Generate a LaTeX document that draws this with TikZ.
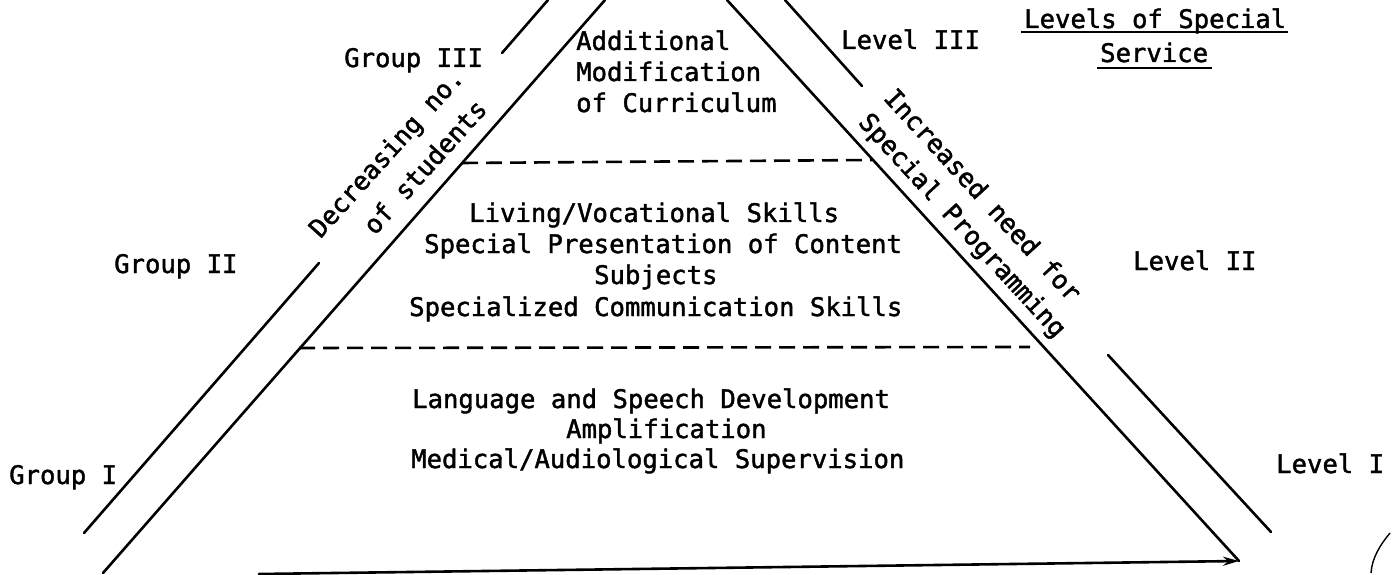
\documentclass[tikz,border=0pt]{standalone}
\usepackage{fontspec}
\newfontfamily\tw[FakeBold=1.6]{DejaVu Sans Mono}
\usetikzlibrary{arrows.meta}
\begin{document}
\begin{tikzpicture}[x=1pt,y=-1pt,
  txt/.style={font=\tw\fontsize{25.6pt}{32pt}\selectfont, inner sep=0pt, anchor=base west},
  rtxt/.style={font=\tw\fontsize{25.6pt}{32pt}\selectfont, inner sep=0pt, anchor=center, text height=18pt, text depth=0pt},
  edge/.style={line width=2.6pt, line cap=round},
  dsh/.style={line width=2.6pt, dash pattern=on 16pt off 8pt},
  uline/.style={line width=2pt}]
\fill[white] (0,0) rectangle (1398,575);
\useasboundingbox (0,0) rectangle (1398,575);
% triangle
\coordinate (LItop) at (605,0);
\coordinate (LIbot) at (103,573);
\coordinate (RItop) at (727,0);
\coordinate (corner) at (1239,561);
\coordinate (Bleft) at (259,574);
\draw[edge] (LItop) -- (LIbot);
\draw[edge] (RItop) -- (corner);
\draw[edge, -{Stealth[length=16pt,width=9pt]}] (Bleft) -- (corner);
% outer lines
\coordinate (LOa1) at (548,0);
\coordinate (LOa2) at (502,53);
\coordinate (LOb1) at (319,263);
\coordinate (LOb2) at (84,533);
\coordinate (ROa1) at (785,0);
\coordinate (ROa2) at (862,86);
\coordinate (ROb1) at (1108,355);
\coordinate (ROb2) at (1271,532);
\draw[edge] (LOa1) -- (LOa2);
\draw[edge] (LOb1) -- (LOb2);
\draw[edge] (ROa1) -- (ROa2);
\draw[edge] (ROb1) -- (ROb2);
% dashed dividers
\coordinate (D1l) at (462,163);
\coordinate (D1r) at (872,160);
\coordinate (D2l) at (299,348);
\coordinate (D2r) at (1030,347);
\draw[dsh] (D1l) -- (D1r);
\draw[dsh] (D2l) -- (D2r);
% scan mark at right
\coordinate (bk1) at (1390,533);
\coordinate (bk2) at (1371,573);
\draw[line width=1.4pt] (bk1) .. controls (1380,545) and (1372,558) .. (bk2);
% group labels
\node[txt] (g3) at (344,67) {Group III};
\node[txt] (g2) at (114,273) {Group II};
\node[txt] (g1) at (9,484) {Group I};
% level labels
\node[txt] (l3) at (841,49) {Level III};
\node[txt] (l2) at (1133,270) {Level II};
\node[txt] (l1) at (1276,473) {Level I};
% title
\node[txt] (t1) at (1024,28) {Levels of Special};
\node[txt] (t2) at (1100,62) {Service};
\draw[uline] (t1.base west) ++(-3,4) coordinate (u1a) -- ++(267,0) coordinate (u1b);
\draw[uline] (t2.base west) ++(-3,6) coordinate (u2a) -- ++(115,0) coordinate (u2b);
% top tier
\node[txt] (a1) at (576,50) {Additional};
\node[txt] (a2) at (576,81) {Modification};
\node[txt] (a3) at (576,112) {of Curriculum};
% middle tier
\node[txt] (m1) at (469,222) {Living/Vocational Skills};
\node[txt] (m2) at (424,253) {Special Presentation of Content};
\node[txt] (m3) at (594,284) {Subjects};
\node[txt] (m4) at (409,316) {Specialized Communication Skills};
% bottom tier
\node[txt] (b1) at (412,408) {Language and Speech Development};
\node[txt] (b2) at (566,438) {Amplification};
\node[txt] (b3) at (411,468) {Medical/Audiological Supervision};
% rotated side texts
\node[rtxt, rotate=48] (dec1) at (386,153) {Decreasing no.};
\node[rtxt, rotate=48] (dec2) at (425,167) {of students};
\node[rtxt, rotate=-47.5] (inc1) at (983,195) {Increased need for};
\node[rtxt, rotate=-47.5] (inc2) at (963,225) {Special Programming};
\end{tikzpicture}
\end{document}
